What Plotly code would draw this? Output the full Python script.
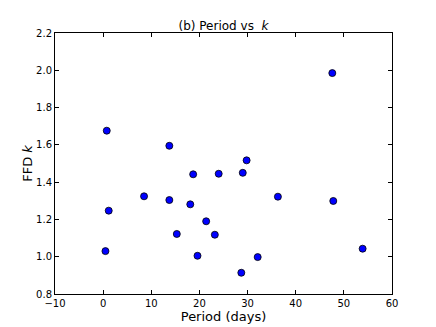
import plotly.graph_objects as go

# Period (days) and FFD k values
period = [0.75, 13.75, 29.8, 18.7, 24.0, 29.0, 8.5, 13.75, 18.1, 1.16, 21.4,
          15.3, 23.2, 0.48, 19.6, 32.1, 28.7, 47.6, 36.3, 47.8, 53.9]
ffd_k = [1.676, 1.595, 1.517, 1.442, 1.445, 1.450, 1.324, 1.304, 1.281, 1.247, 1.190,
         1.122, 1.118, 1.030, 1.005, 0.998, 0.914, 1.985, 1.322, 1.299, 1.043]

font = "DejaVu Sans"

fig = go.Figure(go.Scatter(
    x=period, y=ffd_k, mode="markers",
    marker=dict(color="#0000ff", size=7, line=dict(color="black", width=0.8)),
    showlegend=False,
))

axis_common = dict(
    showgrid=False, zeroline=False, showline=True, linecolor="black", linewidth=1,
    mirror="ticks", ticks="inside", ticklen=4, tickcolor="black", automargin=False,
    tickfont=dict(family=font, size=10, color="black"),
)

fig.update_xaxes(range=[-10, 60], dtick=10, tick0=0,
                 title=dict(text="Period (days)", font=dict(family=font, size=13, color="black"), standoff=1),
                 **axis_common)
fig.update_yaxes(range=[0.8, 2.2], dtick=0.2, tick0=0.8, tickformat=".1f",
                 title=dict(text="FFD <i>k</i>", font=dict(family=font, size=13, color="black"), standoff=0),
                 **axis_common)

# the page body adds an 8px offset, so the figure is shrunk by that amount
fig.update_layout(
    width=428, height=319,
    margin=dict(l=47, r=44, t=25, b=33),
    paper_bgcolor="white", plot_bgcolor="white",
    title=dict(text="(b) Period vs  <i>k</i>", x=0.5, xref="paper", xanchor="center",
               y=1 - 18 / 319, yref="container", yanchor="middle",
               font=dict(family=font, size=12, color="black")),
)

fig.write_html("out.html")
